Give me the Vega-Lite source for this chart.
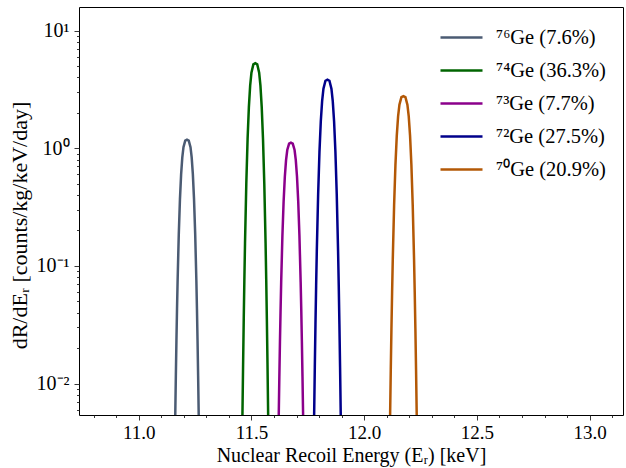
{
  "$schema": "https://vega.github.io/schema/vega-lite/v6.json",
  "width": 544,
  "height": 408,
  "autosize": {"type": "none"},
  "padding": {"left": 79, "top": 7, "right": 3, "bottom": 53},
  "background": "white",
  "config": {
    "font": "Liberation Serif",
    "view": {"stroke": "black", "strokeWidth": 1},
    "axis": {
      "domain": false,
      "grid": false,
      "tickColor": "#222",
      "tickWidth": 0.9,
      "labelColor": "black",
      "titleColor": "black",
      "labelFont": "Liberation Serif",
      "titleFont": "Liberation Serif",
      "labelFontSize": 19,
      "titleFontSize": 20,
      "titleFontWeight": "normal",
      "labelOverlap": false,
      "labelFlush": false,
      "labelBound": false
    },
    "legend": {"labelFont": "Liberation Serif"}
  },
  "data": {
    "values": [
      {"iso": "⁷⁶Ge (7.6%)", "E": 11.1568, "rate": 0.000907},
      {"iso": "⁷⁶Ge (7.6%)", "E": 11.162, "rate": 0.005398},
      {"iso": "⁷⁶Ge (7.6%)", "E": 11.1646, "rate": 0.01164},
      {"iso": "⁷⁶Ge (7.6%)", "E": 11.1672, "rate": 0.02324},
      {"iso": "⁷⁶Ge (7.6%)", "E": 11.1698, "rate": 0.04316},
      {"iso": "⁷⁶Ge (7.6%)", "E": 11.1724, "rate": 0.07485},
      {"iso": "⁷⁶Ge (7.6%)", "E": 11.1776, "rate": 0.1861},
      {"iso": "⁷⁶Ge (7.6%)", "E": 11.1828, "rate": 0.3688},
      {"iso": "⁷⁶Ge (7.6%)", "E": 11.188, "rate": 0.6023},
      {"iso": "⁷⁶Ge (7.6%)", "E": 11.1932, "rate": 0.8366},
      {"iso": "⁷⁶Ge (7.6%)", "E": 11.1984, "rate": 1.021},
      {"iso": "⁷⁶Ge (7.6%)", "E": 11.2062, "rate": 1.160},
      {"iso": "⁷⁶Ge (7.6%)", "E": 11.214, "rate": 1.181},
      {"iso": "⁷⁶Ge (7.6%)", "E": 11.2218, "rate": 1.160},
      {"iso": "⁷⁶Ge (7.6%)", "E": 11.2296, "rate": 1.021},
      {"iso": "⁷⁶Ge (7.6%)", "E": 11.2348, "rate": 0.8366},
      {"iso": "⁷⁶Ge (7.6%)", "E": 11.24, "rate": 0.6023},
      {"iso": "⁷⁶Ge (7.6%)", "E": 11.2452, "rate": 0.3688},
      {"iso": "⁷⁶Ge (7.6%)", "E": 11.2504, "rate": 0.1861},
      {"iso": "⁷⁶Ge (7.6%)", "E": 11.2556, "rate": 0.07485},
      {"iso": "⁷⁶Ge (7.6%)", "E": 11.2582, "rate": 0.04316},
      {"iso": "⁷⁶Ge (7.6%)", "E": 11.2608, "rate": 0.02324},
      {"iso": "⁷⁶Ge (7.6%)", "E": 11.2634, "rate": 0.01164},
      {"iso": "⁷⁶Ge (7.6%)", "E": 11.266, "rate": 0.005398},
      {"iso": "⁷⁶Ge (7.6%)", "E": 11.2712, "rate": 0.000907},

      {"iso": "⁷⁴Ge (36.3%)", "E": 11.4543, "rate": 0.000552},
      {"iso": "⁷⁴Ge (36.3%)", "E": 11.46, "rate": 0.005395},
      {"iso": "⁷⁴Ge (36.3%)", "E": 11.46285, "rate": 0.01441},
      {"iso": "⁷⁴Ge (36.3%)", "E": 11.4657, "rate": 0.03488},
      {"iso": "⁷⁴Ge (36.3%)", "E": 11.46855, "rate": 0.07692},
      {"iso": "⁷⁴Ge (36.3%)", "E": 11.4714, "rate": 0.1554},
      {"iso": "⁷⁴Ge (36.3%)", "E": 11.4771, "rate": 0.4979},
      {"iso": "⁷⁴Ge (36.3%)", "E": 11.4828, "rate": 1.194},
      {"iso": "⁷⁴Ge (36.3%)", "E": 11.4885, "rate": 2.234},
      {"iso": "⁷⁴Ge (36.3%)", "E": 11.4942, "rate": 3.401},
      {"iso": "⁷⁴Ge (36.3%)", "E": 11.4999, "rate": 4.387},
      {"iso": "⁷⁴Ge (36.3%)", "E": 11.50845, "rate": 5.163},
      {"iso": "⁷⁴Ge (36.3%)", "E": 11.517, "rate": 5.284},
      {"iso": "⁷⁴Ge (36.3%)", "E": 11.52555, "rate": 5.163},
      {"iso": "⁷⁴Ge (36.3%)", "E": 11.5341, "rate": 4.387},
      {"iso": "⁷⁴Ge (36.3%)", "E": 11.5398, "rate": 3.401},
      {"iso": "⁷⁴Ge (36.3%)", "E": 11.5455, "rate": 2.234},
      {"iso": "⁷⁴Ge (36.3%)", "E": 11.5512, "rate": 1.194},
      {"iso": "⁷⁴Ge (36.3%)", "E": 11.5569, "rate": 0.4979},
      {"iso": "⁷⁴Ge (36.3%)", "E": 11.5626, "rate": 0.1554},
      {"iso": "⁷⁴Ge (36.3%)", "E": 11.56545, "rate": 0.07692},
      {"iso": "⁷⁴Ge (36.3%)", "E": 11.5683, "rate": 0.03488},
      {"iso": "⁷⁴Ge (36.3%)", "E": 11.57115, "rate": 0.01441},
      {"iso": "⁷⁴Ge (36.3%)", "E": 11.574, "rate": 0.005395},
      {"iso": "⁷⁴Ge (36.3%)", "E": 11.5797, "rate": 0.000552},

      {"iso": "⁷³Ge (7.7%)", "E": 11.6156, "rate": 0.000924},
      {"iso": "⁷³Ge (7.7%)", "E": 11.621, "rate": 0.005395},
      {"iso": "⁷³Ge (7.7%)", "E": 11.6237, "rate": 0.01154},
      {"iso": "⁷³Ge (7.7%)", "E": 11.6264, "rate": 0.02288},
      {"iso": "⁷³Ge (7.7%)", "E": 11.6291, "rate": 0.04219},
      {"iso": "⁷³Ge (7.7%)", "E": 11.6318, "rate": 0.07273},
      {"iso": "⁷³Ge (7.7%)", "E": 11.6372, "rate": 0.1791},
      {"iso": "⁷³Ge (7.7%)", "E": 11.6426, "rate": 0.3524},
      {"iso": "⁷³Ge (7.7%)", "E": 11.648, "rate": 0.5722},
      {"iso": "⁷³Ge (7.7%)", "E": 11.6534, "rate": 0.7921},
      {"iso": "⁷³Ge (7.7%)", "E": 11.6588, "rate": 0.9649},
      {"iso": "⁷³Ge (7.7%)", "E": 11.6669, "rate": 1.094},
      {"iso": "⁷³Ge (7.7%)", "E": 11.675, "rate": 1.114},
      {"iso": "⁷³Ge (7.7%)", "E": 11.6831, "rate": 1.094},
      {"iso": "⁷³Ge (7.7%)", "E": 11.6912, "rate": 0.9649},
      {"iso": "⁷³Ge (7.7%)", "E": 11.6966, "rate": 0.7921},
      {"iso": "⁷³Ge (7.7%)", "E": 11.702, "rate": 0.5722},
      {"iso": "⁷³Ge (7.7%)", "E": 11.7074, "rate": 0.3524},
      {"iso": "⁷³Ge (7.7%)", "E": 11.7128, "rate": 0.1791},
      {"iso": "⁷³Ge (7.7%)", "E": 11.7182, "rate": 0.07273},
      {"iso": "⁷³Ge (7.7%)", "E": 11.7209, "rate": 0.04219},
      {"iso": "⁷³Ge (7.7%)", "E": 11.7236, "rate": 0.02288},
      {"iso": "⁷³Ge (7.7%)", "E": 11.7263, "rate": 0.01154},
      {"iso": "⁷³Ge (7.7%)", "E": 11.729, "rate": 0.005395},
      {"iso": "⁷³Ge (7.7%)", "E": 11.7344, "rate": 0.000924},

      {"iso": "⁷²Ge (27.5%)", "E": 11.7721, "rate": 0.000614},
      {"iso": "⁷²Ge (27.5%)", "E": 11.778, "rate": 0.005395},
      {"iso": "⁷²Ge (27.5%)", "E": 11.78095, "rate": 0.01376},
      {"iso": "⁷²Ge (27.5%)", "E": 11.7839, "rate": 0.03196},
      {"iso": "⁷²Ge (27.5%)", "E": 11.78685, "rate": 0.06794},
      {"iso": "⁷²Ge (27.5%)", "E": 11.7898, "rate": 0.1328},
      {"iso": "⁷²Ge (27.5%)", "E": 11.7957, "rate": 0.4027},
      {"iso": "⁷²Ge (27.5%)", "E": 11.8016, "rate": 0.9273},
      {"iso": "⁷²Ge (27.5%)", "E": 11.8075, "rate": 1.685},
      {"iso": "⁷²Ge (27.5%)", "E": 11.8134, "rate": 2.515},
      {"iso": "⁷²Ge (27.5%)", "E": 11.8193, "rate": 3.206},
      {"iso": "⁷²Ge (27.5%)", "E": 11.82815, "rate": 3.744},
      {"iso": "⁷²Ge (27.5%)", "E": 11.837, "rate": 3.828},
      {"iso": "⁷²Ge (27.5%)", "E": 11.84585, "rate": 3.744},
      {"iso": "⁷²Ge (27.5%)", "E": 11.8547, "rate": 3.206},
      {"iso": "⁷²Ge (27.5%)", "E": 11.8606, "rate": 2.515},
      {"iso": "⁷²Ge (27.5%)", "E": 11.8665, "rate": 1.685},
      {"iso": "⁷²Ge (27.5%)", "E": 11.8724, "rate": 0.9273},
      {"iso": "⁷²Ge (27.5%)", "E": 11.8783, "rate": 0.4027},
      {"iso": "⁷²Ge (27.5%)", "E": 11.8842, "rate": 0.1328},
      {"iso": "⁷²Ge (27.5%)", "E": 11.88715, "rate": 0.06794},
      {"iso": "⁷²Ge (27.5%)", "E": 11.8901, "rate": 0.03196},
      {"iso": "⁷²Ge (27.5%)", "E": 11.89305, "rate": 0.01376},
      {"iso": "⁷²Ge (27.5%)", "E": 11.896, "rate": 0.005395},
      {"iso": "⁷²Ge (27.5%)", "E": 11.9019, "rate": 0.000614},

      {"iso": "⁷⁰Ge (20.9%)", "E": 12.1091, "rate": 0.000684},
      {"iso": "⁷⁰Ge (20.9%)", "E": 12.115, "rate": 0.005395},
      {"iso": "⁷⁰Ge (20.9%)", "E": 12.11795, "rate": 0.01314},
      {"iso": "⁷⁰Ge (20.9%)", "E": 12.1209, "rate": 0.02929},
      {"iso": "⁷⁰Ge (20.9%)", "E": 12.12385, "rate": 0.05999},
      {"iso": "⁷⁰Ge (20.9%)", "E": 12.1268, "rate": 0.1135},
      {"iso": "⁷⁰Ge (20.9%)", "E": 12.1327, "rate": 0.3259},
      {"iso": "⁷⁰Ge (20.9%)", "E": 12.1386, "rate": 0.7201},
      {"iso": "⁷⁰Ge (20.9%)", "E": 12.1445, "rate": 1.271},
      {"iso": "⁷⁰Ge (20.9%)", "E": 12.1504, "rate": 1.860},
      {"iso": "⁷⁰Ge (20.9%)", "E": 12.1563, "rate": 2.343},
      {"iso": "⁷⁰Ge (20.9%)", "E": 12.16515, "rate": 2.716},
      {"iso": "⁷⁰Ge (20.9%)", "E": 12.174, "rate": 2.773},
      {"iso": "⁷⁰Ge (20.9%)", "E": 12.18285, "rate": 2.716},
      {"iso": "⁷⁰Ge (20.9%)", "E": 12.1917, "rate": 2.343},
      {"iso": "⁷⁰Ge (20.9%)", "E": 12.1976, "rate": 1.860},
      {"iso": "⁷⁰Ge (20.9%)", "E": 12.2035, "rate": 1.271},
      {"iso": "⁷⁰Ge (20.9%)", "E": 12.2094, "rate": 0.7201},
      {"iso": "⁷⁰Ge (20.9%)", "E": 12.2153, "rate": 0.3259},
      {"iso": "⁷⁰Ge (20.9%)", "E": 12.2212, "rate": 0.1135},
      {"iso": "⁷⁰Ge (20.9%)", "E": 12.22415, "rate": 0.05999},
      {"iso": "⁷⁰Ge (20.9%)", "E": 12.2271, "rate": 0.02929},
      {"iso": "⁷⁰Ge (20.9%)", "E": 12.23005, "rate": 0.01314},
      {"iso": "⁷⁰Ge (20.9%)", "E": 12.233, "rate": 0.005395},
      {"iso": "⁷⁰Ge (20.9%)", "E": 12.2389, "rate": 0.000684}
    ]
  },
  "mark": {"type": "line", "strokeWidth": 2.5, "clip": true},
  "encoding": {
    "x": {
      "field": "E",
      "type": "quantitative",
      "scale": {"domain": [10.735, 13.148], "nice": false, "zero": false},
      "axis": {
        "title": "Nuclear Recoil Energy (Eᵣ) [keV]",
        "labelFont": "Liberation Serif",
        "titleFont": "Liberation Serif",
        "titleFontSize": 20,
        "values": [10.8, 10.9, 11.0, 11.1, 11.2, 11.3, 11.4, 11.5, 11.6, 11.7, 11.8, 11.9, 12.0, 12.1, 12.2, 12.3, 12.4, 12.5, 12.6, 12.7, 12.8, 12.9, 13.0, 13.1],
        "labelExpr": "abs(datum.value*2 - round(datum.value*2)) < 1e-6 ? format(datum.value, '.1f') : ''",
        "tickSize": {"condition": {"test": "abs(datum.value*2 - round(datum.value*2)) < 1e-6", "value": 5}, "value": 2.5},
        "labelPadding": 3,
        "titlePadding": 3
      }
    },
    "y": {
      "field": "rate",
      "type": "quantitative",
      "scale": {"type": "log", "domain": [0.0054, 15.85], "nice": false},
      "axis": {
        "title": "dR/dEᵣ [counts/kg/keV/day]",
        "labelFont": "Liberation Serif",
        "titleFont": "Liberation Serif",
        "labelFontSize": 20,
        "titleFontSize": 22,
        "titleY": 218,
        "values": [0.006, 0.007, 0.008, 0.009, 0.01, 0.02, 0.03, 0.04, 0.05, 0.06, 0.07, 0.08, 0.09, 0.1, 0.2, 0.3, 0.4, 0.5, 0.6, 0.7, 0.8, 0.9, 1, 2, 3, 4, 5, 6, 7, 8, 9, 10],
        "labelExpr": "abs(datum.value-10)<1e-9 ? '10¹' : (abs(datum.value-1)<1e-9 ? '10⁰' : (abs(datum.value-0.1)<1e-9 ? '10⁻¹' : (abs(datum.value-0.01)<1e-9 ? '10⁻²' : '')))",
        "tickSize": {"condition": {"test": "abs(datum.value-10)<1e-9 || abs(datum.value-1)<1e-9 || abs(datum.value-0.1)<1e-9 || abs(datum.value-0.01)<1e-9", "value": 5}, "value": 2.5},
        "labelPadding": 5,
        "titlePadding": 5
      }
    },
    "color": {
      "field": "iso",
      "type": "nominal",
      "scale": {
        "domain": ["⁷⁶Ge (7.6%)", "⁷⁴Ge (36.3%)", "⁷³Ge (7.7%)", "⁷²Ge (27.5%)", "⁷⁰Ge (20.9%)"],
        "range": ["#4b5b73", "#006400", "#8b008b", "#00008b", "#b35806"]
      },
      "legend": {
        "title": null,
        "orient": "none",
        "legendX": 360,
        "legendY": 8,
        "symbolType": "stroke",
        "symbolSize": 1764,
        "symbolStrokeWidth": 2.5,
        "labelFont": "Liberation Serif",
        "labelFontSize": 20.5,
        "labelColor": "black",
        "labelOffset": 12,
        "rowPadding": -10
      }
    }
  }
}
